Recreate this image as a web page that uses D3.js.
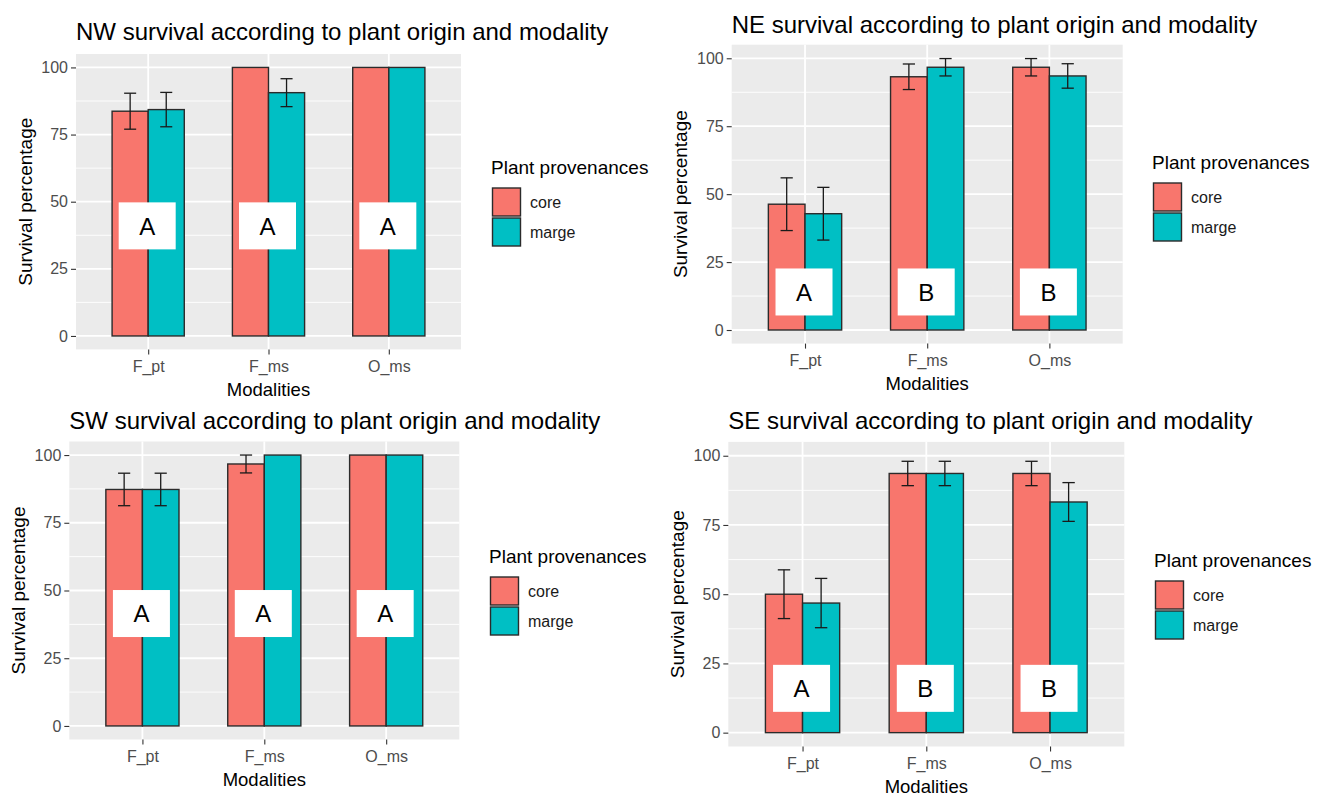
<!DOCTYPE html>
<html lang="en">
<head>
<meta charset="UTF-8">
<title>Survival according to plant origin and modality</title>
<script src="https://cdn.jsdelivr.net/npm/d3@7.8.5/dist/d3.min.js"></script>
<style>
  body { margin: 0; background: #fff; }
  svg { display: block; font-family: 'Liberation Sans', Arial, sans-serif; }
  .axis .domain { display: none; }
  .axis line { stroke: #333; stroke-width: 1.1; }
  .axis text { fill: #4d4d4d; font-size: 16px; }
</style>
</head>
<body>
<svg id="chart" width="1322" height="796"></svg>
<script>
// categories
const modalities = ["F_pt", "F_ms", "O_ms"];
const provenances = ["core", "marge"];
const yTicks = [0, 25, 50, 75, 100];
const yMinor = [12.5, 37.5, 62.5, 87.5];

// mean survival (%) and standard error, per site
const nwCore = [83.7, 100, 100],   nwCoreSe = [6.7, 0, 0];
const nwMarge = [84.3, 90.6, 100], nwMargeSe = [6.4, 5.2, 0];
const neCore = [46.3, 93.2, 96.7], neCoreSe = [9.7, 4.7, 3.2];
const neMarge = [42.8, 96.7, 93.5], neMargeSe = [9.7, 3.2, 4.5];
const swCore = [87.3, 96.7, 100],  swCoreSe = [6.0, 3.3, 0];
const swMarge = [87.3, 100, 100],  swMargeSe = [6.0, 0, 0];
const seCore = [50.0, 93.6, 93.6], seCoreSe = [8.8, 4.4, 4.4];
const seMarge = [46.8, 93.6, 83.3], seMargeSe = [8.9, 4.4, 7.0];

// significance letters and the height they sit at
const nwLetters = ["A", "A", "A"], nwLetterY = 41;
const neLetters = ["A", "B", "B"], neLetterY = 14;
const swLetters = ["A", "A", "A"], swLetterY = 41.5;
const seLetters = ["A", "B", "B"], seLetterY = 16;

const colors = { core: "#F8766D", marge: "#00BFC4" };

// panel boxes (pixels) for the four plots
const panels = [
  { name: "NW", core: nwCore, coreSe: nwCoreSe, marge: nwMarge, margeSe: nwMargeSe, letters: nwLetters, letterY: nwLetterY,
    left: 76, right: 461, top: 54, bottom: 349.4, titleY: 40, legX: 492, legY: 174 },
  { name: "NE", core: neCore, coreSe: neCoreSe, marge: neMarge, margeSe: neMargeSe, letters: neLetters, letterY: neLetterY,
    left: 731.7, right: 1122.7, top: 44.7, bottom: 343.6, titleY: 32.5, legX: 1153, legY: 169 },
  { name: "SW", core: swCore, coreSe: swCoreSe, marge: swMarge, margeSe: swMargeSe, letters: swLetters, letterY: swLetterY,
    left: 69.3, right: 459.3, top: 441.5, bottom: 739.5, titleY: 429, legX: 490, legY: 563 },
  { name: "SE", core: seCore, coreSe: seCoreSe, marge: seMarge, margeSe: seMargeSe, letters: seLetters, letterY: seLetterY,
    left: 728.3, right: 1124.3, top: 441.9, bottom: 746.5, titleY: 429, legX: 1155, legY: 567 }
];

const svg = d3.select("#chart");

panels.forEach(p => {
  const g = svg.append("g");

  const x = d3.scalePoint().domain(modalities).range([p.left, p.right]).padding(0.6);
  const y = d3.scaleLinear().domain([-5, 105]).range([p.bottom, p.top]);
  const step = x.step();
  const barW = step * 0.3;

  // panel background and grid
  g.append("rect")
    .attr("x", p.left).attr("y", p.top)
    .attr("width", p.right - p.left).attr("height", p.bottom - p.top)
    .attr("fill", "#ebebeb");

  g.selectAll(".minor").data(yMinor).enter().append("line")
    .attr("x1", p.left).attr("x2", p.right)
    .attr("y1", d => y(d)).attr("y2", d => y(d))
    .attr("stroke", "#fff").attr("stroke-width", 0.9);

  g.selectAll(".major").data(yTicks).enter().append("line")
    .attr("x1", p.left).attr("x2", p.right)
    .attr("y1", d => y(d)).attr("y2", d => y(d))
    .attr("stroke", "#fff").attr("stroke-width", 1.8);

  g.selectAll(".vmajor").data(modalities).enter().append("line")
    .attr("x1", d => x(d)).attr("x2", d => x(d))
    .attr("y1", p.top).attr("y2", p.bottom)
    .attr("stroke", "#fff").attr("stroke-width", 1.8);

  // bars
  const rows = [];
  modalities.forEach((m, i) => {
    rows.push({ m, prov: "core", v: p.core[i], se: p.coreSe[i], off: -1 });
    rows.push({ m, prov: "marge", v: p.marge[i], se: p.margeSe[i], off: 0 });
  });

  g.selectAll(".bar").data(rows).enter().append("rect")
    .attr("x", d => x(d.m) + d.off * barW)
    .attr("y", d => y(d.v))
    .attr("width", barW)
    .attr("height", d => y(0) - y(d.v))
    .attr("fill", d => colors[d.prov])
    .attr("stroke", "#2b2b2b").attr("stroke-width", 1.4);

  // error bars
  const eb = rows.filter(d => d.se > 0);
  const capW = step * 0.1;
  const ebG = g.selectAll(".eb").data(eb).enter().append("g")
    .attr("stroke", "#1a1a1a").attr("stroke-width", 1.3);
  ebG.append("line")
    .attr("x1", d => x(d.m) + (d.off + 0.5) * barW).attr("x2", d => x(d.m) + (d.off + 0.5) * barW)
    .attr("y1", d => y(d.v - d.se)).attr("y2", d => y(Math.min(100, d.v + d.se)));
  ebG.append("line")
    .attr("x1", d => x(d.m) + (d.off + 0.5) * barW - capW / 2).attr("x2", d => x(d.m) + (d.off + 0.5) * barW + capW / 2)
    .attr("y1", d => y(Math.min(100, d.v + d.se))).attr("y2", d => y(Math.min(100, d.v + d.se)));
  ebG.append("line")
    .attr("x1", d => x(d.m) + (d.off + 0.5) * barW - capW / 2).attr("x2", d => x(d.m) + (d.off + 0.5) * barW + capW / 2)
    .attr("y1", d => y(d.v - d.se)).attr("y2", d => y(d.v - d.se));

  // letter labels
  const lab = g.selectAll(".lab").data(modalities).enter().append("g")
    .attr("transform", d => `translate(${x(d) - 1},${y(p.letterY)})`);
  lab.append("rect")
    .attr("x", -28.5).attr("y", -23.5).attr("width", 57).attr("height", 47)
    .attr("fill", "#fff");
  lab.append("text")
    .attr("text-anchor", "middle").attr("dy", "0.36em")
    .attr("font-size", 24).attr("fill", "#000")
    .text((d, i) => p.letters[i]);

  // axes
  g.append("g").attr("class", "axis")
    .attr("transform", `translate(${p.left},0)`)
    .call(d3.axisLeft(y).tickValues(yTicks).tickSize(5).tickPadding(3));

  g.append("g").attr("class", "axis")
    .attr("transform", `translate(0,${p.bottom})`)
    .call(d3.axisBottom(x).tickSize(5).tickPadding(6));

  // titles
  g.append("text")
    .attr("x", p.left).attr("y", p.titleY)
    .attr("font-size", 24).attr("fill", "#000")
    .text(`${p.name} survival according to plant origin and modality`);

  g.append("text")
    .attr("x", (p.left + p.right) / 2).attr("y", p.bottom + 46.5)
    .attr("text-anchor", "middle")
    .attr("font-size", 18.5).attr("fill", "#000")
    .text("Modalities");

  g.append("text")
    .attr("transform", `translate(${p.left - 51},${(p.top + p.bottom) / 2}) rotate(-90)`)
    .attr("text-anchor", "middle").attr("dominant-baseline", "central")
    .attr("font-size", 19).attr("fill", "#000")
    .text("Survival percentage");

  // legend
  const leg = g.append("g").attr("transform", `translate(${p.legX},${p.legY})`);
  leg.append("text").attr("x", -1).attr("y", 0)
    .attr("font-size", 19).attr("fill", "#000")
    .text("Plant provenances");
  provenances.forEach((prov, i) => {
    leg.append("rect")
      .attr("x", 0.5).attr("y", 14 + i * 30)
      .attr("width", 28).attr("height", 28)
      .attr("fill", colors[prov])
      .attr("stroke", "#2b2b2b").attr("stroke-width", 1.4);
    leg.append("text")
      .attr("x", 38).attr("y", 28 + i * 30)
      .attr("dominant-baseline", "central")
      .attr("font-size", 16).attr("fill", "#1a1a1a")
      .text(prov);
  });
});
</script>
</body>
</html>
